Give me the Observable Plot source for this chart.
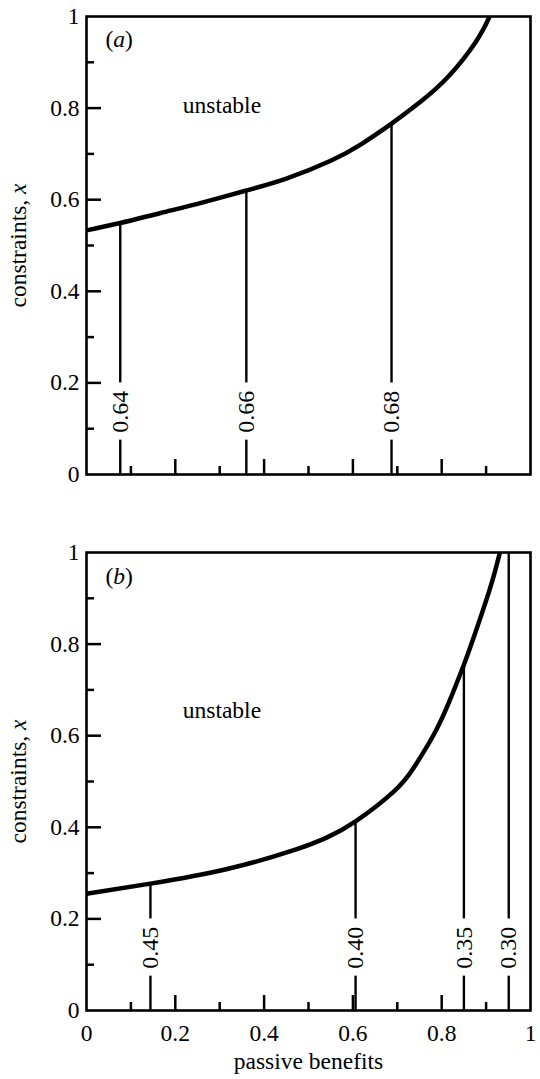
<!DOCTYPE html>
<html>
<head>
<meta charset="utf-8">
<script src="https://cdn.jsdelivr.net/npm/d3@7"></script>
<script src="https://cdn.jsdelivr.net/npm/@observablehq/plot@0.6"></script>
<style>
  html, body { margin: 0; padding: 0; background: #fff; }
  #chart { width: 540px; }
  #chart svg { display: block; }
  #chart svg text { font-family: "Liberation Serif", "Times New Roman", serif; }
</style>
</head>
<body>
<div id="chart"></div>
<script>
// ---- data ----
const tickLabelValues = [0, 0.2, 0.4, 0.6, 0.8, 1];
const majorTicks = [0.2, 0.4, 0.6, 0.8];
const minorTicks = [0.1, 0.3, 0.5, 0.7, 0.9];

// panel (a)
const curveAx = [0, 0.076, 0.167, 0.25, 0.36, 0.45, 0.55, 0.62, 0.687, 0.75, 0.815, 0.877, 0.908];
const curveAy = [0.533, 0.549, 0.571, 0.591, 0.62, 0.646, 0.685, 0.722, 0.766, 0.812, 0.869, 0.945, 1.0];
const contourAlabels = ["0.64", "0.66", "0.68"];
const contourAx = [0.076, 0.36, 0.687];
const contourAtop = [0.549, 0.62, 0.766];

// panel (b)
const curveBx = [0, 0.144, 0.317, 0.467, 0.542, 0.606, 0.692, 0.737, 0.782, 0.816, 0.85, 0.869, 0.908, 0.931];
const curveBy = [0.255, 0.277, 0.309, 0.350, 0.378, 0.413, 0.478, 0.530, 0.602, 0.672, 0.755, 0.806, 0.919, 1.0];
const contourBlabels = ["0.45", "0.40", "0.35", "0.30"];
const contourBx = [0.144, 0.606, 0.85, 0.951];
const contourBtop = [0.277, 0.413, 0.755, 1.0];

// ---- style constants ----
const FONT = "'Liberation Serif', 'Times New Roman', serif";
const FS = 23.5;
const PLOT_W = 444, PLOT_H = 458;
const MAJOR_LEN = 15, MINOR_LEN = 8;
const GAP_LOW = 0.075, GAP_HIGH = 0.2, LABEL_Y = 0.137;

function panel(opts) {
  const {cx, cy, kx, ktop, klabels, tag, tagDy, unstableY, showX, height, marginBottom} = opts;
  const ci = d3.range(cx.length);
  const ki = d3.range(kx.length);
  const fmt = d => String(d);
  const marks = [
    // ticks (inward)
    Plot.ruleX(majorTicks, {x: d => d, y1: 0, y2: MAJOR_LEN / PLOT_H, strokeWidth: 2.5}),
    Plot.ruleX(minorTicks, {x: d => d, y1: 0, y2: MINOR_LEN / PLOT_H, strokeWidth: 2.5}),
    Plot.ruleY(majorTicks, {y: d => d, x1: 0, x2: MAJOR_LEN / PLOT_W, strokeWidth: 2.5}),
    Plot.ruleY(minorTicks, {y: d => d, x1: 0, x2: MINOR_LEN / PLOT_W, strokeWidth: 2.5}),
    // contour segments
    Plot.ruleX(ki, {x: i => kx[i], y1: 0, y2: GAP_LOW, strokeWidth: 2.4}),
    Plot.ruleX(ki, {x: i => kx[i], y1: GAP_HIGH, y2: i => ktop[i], strokeWidth: 2.4}),
    Plot.text(ki, {x: i => kx[i], y: LABEL_Y, text: i => klabels[i], rotate: -90, fontSize: 24}),
    // boundary curve
    Plot.line(ci, {x: i => cx[i], y: i => cy[i], curve: "natural", strokeWidth: 4.5, clip: true}),
    Plot.frame({strokeWidth: 2.6}),
    // texts
    Plot.text(["unstable"], {x: 0.305, y: unstableY, fontSize: FS}),
    Plot.text([tag], {frameAnchor: "top-left", dx: 19, dy: tagDy, textAnchor: "start", fontSize: FS}),
    Plot.text(["constraints, x"], {frameAnchor: "left", dx: -68, rotate: -90, textAnchor: "middle", fontSize: FS}),
    Plot.axisY(tickLabelValues, {tickSize: 0, tickPadding: 7, tickFormat: fmt, fontSize: FS, label: null})
  ];
  if (showX) {
    marks.push(Plot.axisX(tickLabelValues, {tickSize: 0, tickPadding: 14, tickFormat: fmt, fontSize: FS, label: null}));
    marks.push(Plot.text(["passive benefits"], {frameAnchor: "bottom", dy: 58, fontSize: FS}));
  }
  const svg = Plot.plot({
    width: 540,
    height,
    marginTop: 16,
    marginBottom,
    marginLeft: 86,
    marginRight: 10,
    x: showX ? {domain: [0, 1]} : {domain: [0, 1], axis: null},
    y: {domain: [0, 1]},
    style: {fontFamily: FONT, fontSize: FS + "px", color: "#000", background: "#fff"},
    marks
  });
  // italic parts of labels
  svg.querySelectorAll("text").forEach(t => {
    if (t.textContent === "constraints, x") {
      t.innerHTML = 'constraints, <tspan font-style="italic">x</tspan>';
    } else if (t.textContent === tag) {
      t.innerHTML = '(<tspan font-style="italic">' + tag.slice(1, -1) + '</tspan>)';
    }
  });
  return svg;
}

const chart = document.getElementById("chart");
chart.appendChild(panel({
  cx: curveAx, cy: curveAy, kx: contourAx, ktop: contourAtop, klabels: contourAlabels,
  tag: "(a)", tagDy: 14, unstableY: 0.806, showX: false, height: 536, marginBottom: 62
}));
chart.appendChild(panel({
  cx: curveBx, cy: curveBy, kx: contourBx, ktop: contourBtop, klabels: contourBlabels,
  tag: "(b)", tagDy: 15, unstableY: 0.656, showX: true, height: 543, marginBottom: 69
}));
</script>
</body>
</html>
